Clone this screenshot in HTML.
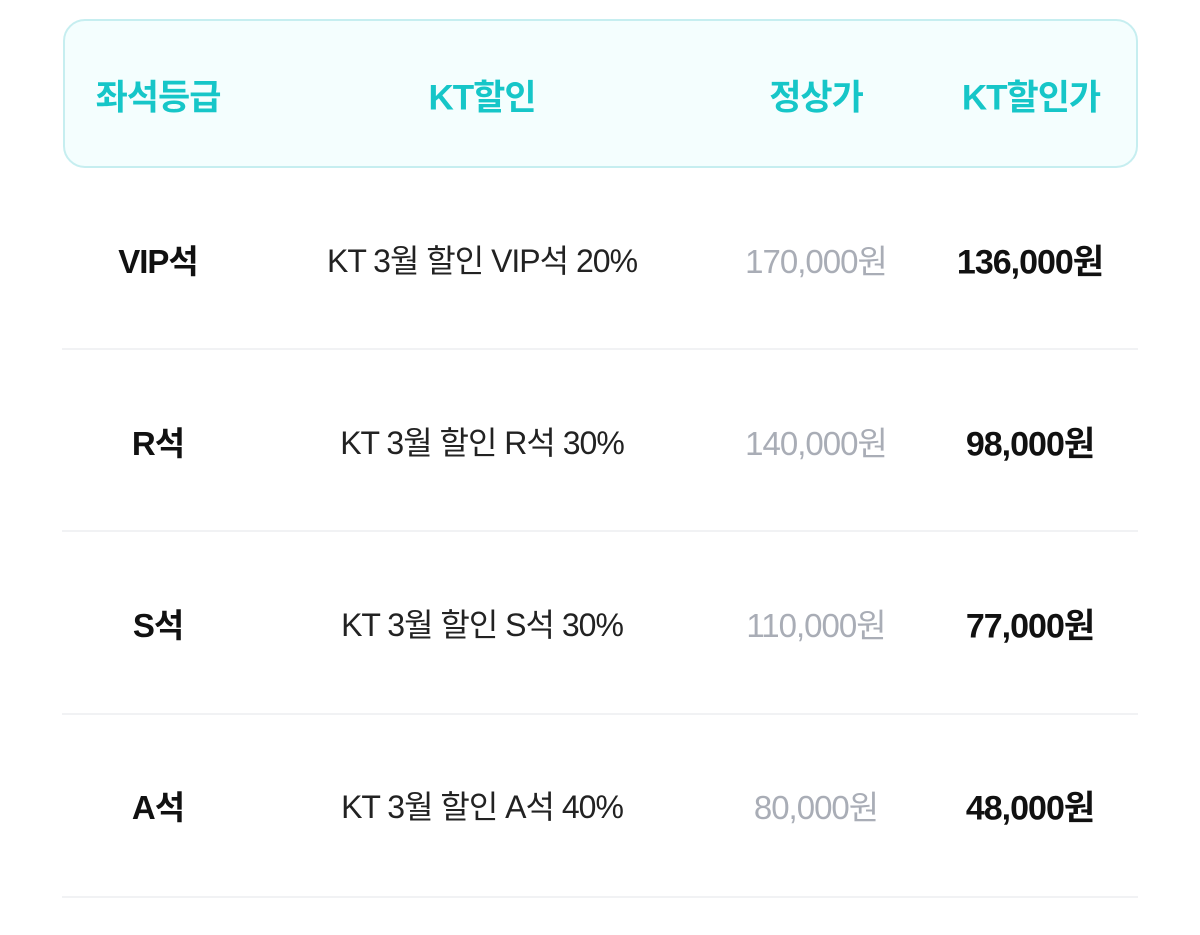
<!DOCTYPE html>
<html><head><meta charset="utf-8"><style>
body{margin:0;width:1200px;height:935px;background:#fff;position:relative;font-family:"Liberation Sans","Noto Sans CJK KR",sans-serif;overflow:hidden}
.hd{position:absolute;left:63px;top:19px;width:1071px;height:145px;border:2px solid #c6eef0;border-radius:22px;background:#f4fefe}
.t{position:absolute;transform:translate(-50%,-50%);white-space:nowrap;letter-spacing:-1px}
.h{color:#16c6c8;font-weight:bold;font-size:35px;top:95px}
.line{position:absolute;left:62px;width:1076px;height:2px;background:#f1f2f4}
.a{font-weight:bold;font-size:33px;color:#111}
.b{font-size:32px;color:#222}
.c{font-size:33px;color:#a9adb6}
.d{font-weight:bold;font-size:34px;color:#111}
</style></head><body>
<div class="hd"></div>
<div class="t h" style="left:158px">좌석등급</div>
<div class="t h" style="left:482px">KT할인</div>
<div class="t h" style="left:816px">정상가</div>
<div class="t h" style="left:1031px">KT할인가</div>

<div class="t a" style="left:158px;top:259px">VIP석</div>
<div class="t b" style="left:482px;top:259px">KT 3월 할인 VIP석 20%</div>
<div class="t c" style="left:816px;top:259px">170,000원</div>
<div class="t d" style="left:1030px;top:259px">136,000원</div>
<div class="line" style="top:348px"></div>

<div class="t a" style="left:158px;top:441px">R석</div>
<div class="t b" style="left:482px;top:441px">KT 3월 할인 R석 30%</div>
<div class="t c" style="left:816px;top:441px">140,000원</div>
<div class="t d" style="left:1030px;top:441px">98,000원</div>
<div class="line" style="top:530px"></div>

<div class="t a" style="left:158px;top:623px">S석</div>
<div class="t b" style="left:482px;top:623px">KT 3월 할인 S석 30%</div>
<div class="t c" style="left:816px;top:623px">110,000원</div>
<div class="t d" style="left:1030px;top:623px">77,000원</div>
<div class="line" style="top:713px"></div>

<div class="t a" style="left:158px;top:805px">A석</div>
<div class="t b" style="left:482px;top:805px">KT 3월 할인 A석 40%</div>
<div class="t c" style="left:816px;top:805px">80,000원</div>
<div class="t d" style="left:1030px;top:805px">48,000원</div>
<div class="line" style="top:896px"></div>
</body></html>
